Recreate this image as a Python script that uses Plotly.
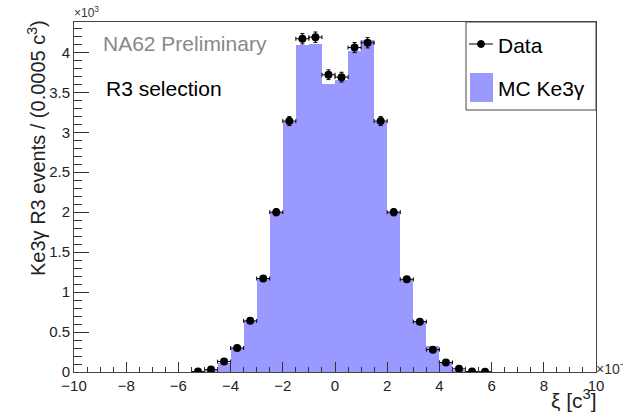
import numpy as np
import plotly.graph_objects as go

# Bin centres (in units of 10^-3 c^3), bin width 0.5
bin_centers = [-5.25, -4.75, -4.25, -3.75, -3.25, -2.75, -2.25, -1.75, -1.25, -0.75, -0.25,
               0.25, 0.75, 1.25, 1.75, 2.25, 2.75, 3.25, 3.75, 4.25, 4.75, 5.25, 5.75]
bin_width = 0.5

data_counts = [5, 30, 130, 300, 640, 1170, 2000, 3140, 4170, 4190, 3720,
               3690, 4060, 4120, 3140, 2000, 1160, 630, 280, 120, 40, 5, 3]

mc_counts = [3, 20, 110, 300, 640, 1170, 2000, 3130, 4090, 4110, 3610,
             3650, 4020, 4150, 3130, 2000, 1150, 640, 320, 110, 25, 5, 2]

x_ticks = [-10, -8, -6, -4, -2, 0, 2, 4, 6, 8, 10]
y_ticks = [0, 0.5, 1, 1.5, 2, 2.5, 3, 3.5, 4]
y_tick_labels = ["0", "0.5", "1", "1.5", "2", "2.5", "3", "3.5", "4"]

FONT = "Liberation Sans, Arial, Helvetica, sans-serif"
MC_COLOR = "#9999ff"

data_k = np.array(data_counts) / 1000.0
data_err = np.sqrt(np.array(data_counts)) / 1000.0
mc_k = np.array(mc_counts) / 1000.0

fig = go.Figure()
fig.add_trace(go.Bar(
    x=bin_centers, y=mc_k, width=bin_width,
    marker=dict(color=MC_COLOR, line=dict(width=0)),
    showlegend=False, hoverinfo="skip",
))
fig.add_trace(go.Scatter(
    x=bin_centers, y=data_k, mode="markers",
    marker=dict(color="black", size=8, symbol="circle"),
    error_x=dict(type="constant", value=bin_width / 2, color="black", thickness=1, width=2),
    error_y=dict(type="data", array=data_err, color="black", thickness=1, width=2),
    showlegend=False,
))

W, H = 623, 416
L, R, T, B = 74, 27, 22, 44
pw, ph = W - L - R, H - T - B

def px(xpix):
    return (xpix - L) / pw

def py(ypix):
    return 1 - (ypix - T) / ph

fig.update_layout(
    width=W, height=H,
    margin=dict(l=L, r=R, t=T, b=B),
    paper_bgcolor="white", plot_bgcolor="white",
    bargap=0, showlegend=False,
    font=dict(family=FONT, color="black"),
    xaxis=dict(
        range=[-10, 10], tickvals=x_ticks, ticks="inside", ticklen=10, tickwidth=1,
        tickcolor="#333", showgrid=False, zeroline=False,
        showline=True, linecolor="#444", linewidth=1, mirror=True,
        tickfont=dict(size=15, family=FONT, color="#222"),
        minor=dict(dtick=0.5, ticks="inside", ticklen=5, tickcolor="#333", showgrid=False),
    ),
    yaxis=dict(
        range=[0, 4.38], tickvals=y_ticks, ticktext=y_tick_labels, ticks="inside",
        ticklen=15, tickwidth=1, tickcolor="#333", showgrid=False, zeroline=False,
        showline=True, linecolor="#444", linewidth=1, mirror=True,
        tickfont=dict(size=15, family=FONT, color="#222"),
        minor=dict(dtick=0.1, ticks="inside", ticklen=8, tickcolor="#333", showgrid=False),
    ),
)

ann = []
# multipliers
ann.append(dict(text="×10<sup>3</sup>", x=0, y=1, xref="paper", yref="paper",
                xanchor="left", yanchor="bottom", showarrow=False,
                font=dict(size=12, family=FONT, color="#333"), xshift=-2))
ann.append(dict(text="×10<sup>−3</sup>", x=1, y=0, xref="paper", yref="paper",
                xanchor="left", yanchor="middle", showarrow=False,
                font=dict(size=14, family=FONT, color="#333"), xshift=-2, yshift=4))
# axis titles
ann.append(dict(text="ξ [c<sup>3</sup>]", x=1, y=0, xref="paper", yref="paper",
                xanchor="right", yanchor="top", showarrow=False,
                font=dict(size=21, family=FONT, color="#222"), yshift=-12, xshift=3))
ann.append(dict(text="Ke3γ R3 events / (0.0005 c<sup>3</sup>)", x=px(36), y=1,
                xref="paper", yref="paper", showarrow=False, textangle=-90,
                xanchor="center", yanchor="top", yshift=4,
                font=dict(size=20, family=FONT, color="#222")))
# plot texts
ann.append(dict(text="NA62 Preliminary", x=px(101), y=py(44), xref="paper", yref="paper",
                xanchor="left", yanchor="middle", showarrow=False,
                font=dict(size=21, family=FONT, color="#888")))
ann.append(dict(text="R3 selection", x=px(104), y=py(88), xref="paper", yref="paper",
                xanchor="left", yanchor="middle", showarrow=False,
                font=dict(size=21, family=FONT, color="black")))
# legend text
ann.append(dict(text="Data", x=px(496), y=py(45), xref="paper", yref="paper",
                xanchor="left", yanchor="middle", showarrow=False,
                font=dict(size=21, family=FONT, color="black")))
ann.append(dict(text="MC Ke3γ", x=px(496), y=py(89), xref="paper", yref="paper",
                xanchor="left", yanchor="middle", showarrow=False,
                font=dict(size=21, family=FONT, color="black")))
fig.update_layout(annotations=ann)

shapes = []
# legend box
shapes.append(dict(type="rect", xref="paper", yref="paper", x0=px(466), x1=1,
                   y0=py(110), y1=1, line=dict(color="#444", width=1), fillcolor="white",
                   layer="above"))
# data symbol
shapes.append(dict(type="line", xref="paper", yref="paper", x0=px(469), x1=px(493),
                   y0=py(44), y1=py(44), line=dict(color="black", width=1), layer="above"))
shapes.append(dict(type="circle", xref="paper", yref="paper", x0=px(477.5), x1=px(484.5),
                   y0=py(47.5), y1=py(40.5), line=dict(color="black", width=1),
                   fillcolor="black", layer="above"))
# MC symbol
shapes.append(dict(type="rect", xref="paper", yref="paper", x0=px(470), x1=px(493),
                   y0=py(102), y1=py(73), line=dict(width=0), fillcolor=MC_COLOR,
                   layer="above"))
fig.update_layout(shapes=shapes)

fig.write_html("out.html")
